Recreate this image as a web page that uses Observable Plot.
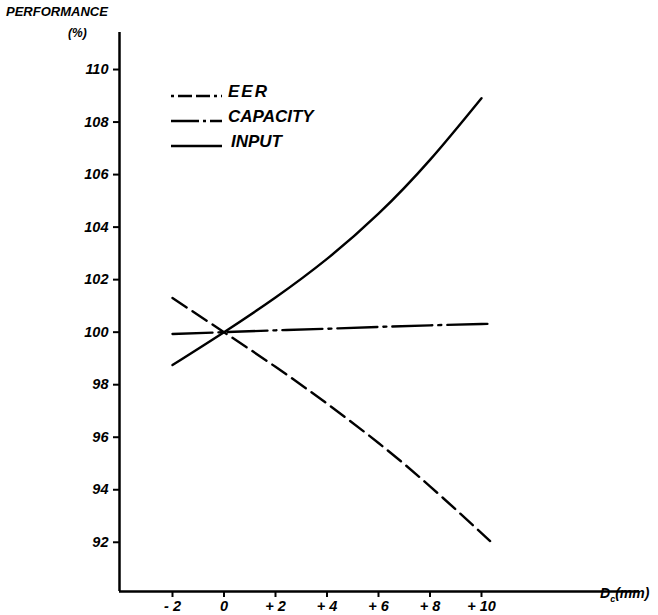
<!DOCTYPE html>
<html>
<head>
<meta charset="utf-8">
<script src="https://cdn.jsdelivr.net/npm/d3@7"></script>
<script src="https://cdn.jsdelivr.net/npm/@observablehq/plot@0.6"></script>
<style>
  body { margin: 0; background: #fff; }
  #wrap { position: relative; width: 658px; height: 615px; overflow: hidden;
          font-family: "Liberation Sans", Arial, sans-serif; font-style: italic; font-weight: bold; color: #000; }
  #wrap svg.plot { position: absolute; left: 0; top: 0; }
  .lbl { position: absolute; white-space: nowrap; line-height: 1; }
  #legend { position: absolute; left: 0; top: 0; }
</style>
</head>
<body>
<div id="wrap">
  <div class="lbl" style="left:6px;top:5px;font-size:13px;">PERFORMANCE</div>
  <div class="lbl" style="left:68px;top:27px;font-size:12px;">(%)</div>
  <div class="lbl" style="left:600px;top:586px;font-size:14px;">D<sub style="font-size:9px;">c</sub>(mm)</div>
</div>
<script>
// ---- data ----
const seriesNames = ["EER", "CAPACITY", "INPUT"];
const eerX = [-2, 0, 2, 4, 6, 8, 10, 10.3];
const eerY = [101.3, 100, 98.68, 97.28, 95.78, 94.13, 92.35, 92.08];
const capX = [-2, 0, 2, 4, 6, 8, 10, 10.1];
const capY = [99.93, 100, 100.07, 100.13, 100.2, 100.26, 100.31, 100.32];
const inpX = [-2, 0, 2, 4, 6, 8, 10];
const inpY = [98.75, 100, 101.32, 102.79, 104.51, 106.56, 108.91];
const xTickValues = [-2, 0, 2, 4, 6, 8, 10];
const xTickLabels = ["- 2", "0", "+ 2", "+ 4", "+ 6", "+ 8", "+ 10"];
const yTickValues = [92, 94, 96, 98, 100, 102, 104, 106, 108, 110];

// ---- styling ----
const dashes = {EER: "17,7", CAPACITY: "40,6,3,6", INPUT: null};
const xDomain = [-4.058, 16.136];
const yDomain = [90.126, 111.41];

const toRows = (name, xs, ys) => xs.map((x, i) => ({series: name, x, y: ys[i]}));
const rows = {
  EER: toRows("EER", eerX, eerY),
  CAPACITY: toRows("CAPACITY", capX, capY),
  INPUT: toRows("INPUT", inpX, inpY)
};

const chart = Plot.plot({
  width: 658,
  height: 615,
  marginLeft: 119,
  marginRight: 19,
  marginTop: 32,
  marginBottom: 24,
  style: {fontFamily: '"Liberation Sans", Arial, sans-serif', fontStyle: "italic", fontWeight: "bold", fontSize: "14px", color: "#000", background: "transparent"},
  x: {domain: xDomain},
  y: {domain: yDomain},
  marks: [
    Plot.axisY({ticks: yTickValues, tickSize: 6, tickPadding: 5, tickFormat: d => String(d), label: null, strokeWidth: 2}),
    Plot.axisX({ticks: xTickValues, tickSize: 6, tickPadding: 3, tickFormat: d => xTickLabels[xTickValues.indexOf(d)], label: null, strokeWidth: 2}),
    Plot.ruleX([xDomain[0]], {stroke: "#000", strokeWidth: 2.5}),
    Plot.ruleY([yDomain[0]], {stroke: "#000", strokeWidth: 2.5}),
    ...seriesNames.map(name => Plot.line(rows[name], {
      x: "x", y: "y", curve: "natural", stroke: "#000", strokeWidth: 2.4,
      strokeDasharray: dashes[name] ?? undefined
    }))
  ]
});
chart.classList.add("plot");
const wrap = document.getElementById("wrap");
wrap.insertBefore(chart, wrap.firstChild);

// enlarge tick labels
chart.querySelectorAll("text").forEach(t => {
  t.setAttribute("font-size", "14.5");
  t.style.fontSize = "14.5px";
});
chart.querySelectorAll("g").forEach(g => {
  if (g.getAttribute("font-size")) g.setAttribute("font-size", "14.5");
});

// ---- legend (overlay) ----
const leg = d3.select("#wrap").append("svg").attr("id", "legend").attr("width", 658).attr("height", 200);
const legY = [96, 121, 146];
seriesNames.forEach((name, i) => {
  leg.append("line").attr("x1", 171).attr("x2", 222).attr("y1", legY[i]).attr("y2", legY[i])
    .attr("stroke", "#000").attr("stroke-width", 2.4)
    .attr("stroke-dasharray", dashes[name] ? (name === "EER" ? "3,4,14,4,14,4" : "28,4,3,4,12") : null);
  leg.append("text").attr("x", name === "INPUT" ? 231 : 228).attr("y", legY[i] + 1)
    .attr("font-family", '"Liberation Sans", Arial, sans-serif').attr("font-style", "italic").attr("font-weight", "bold")
    .attr("font-size", 17).attr("letter-spacing", name === "EER" ? 2 : 0).text(name);
});
</script>
</body>
</html>
